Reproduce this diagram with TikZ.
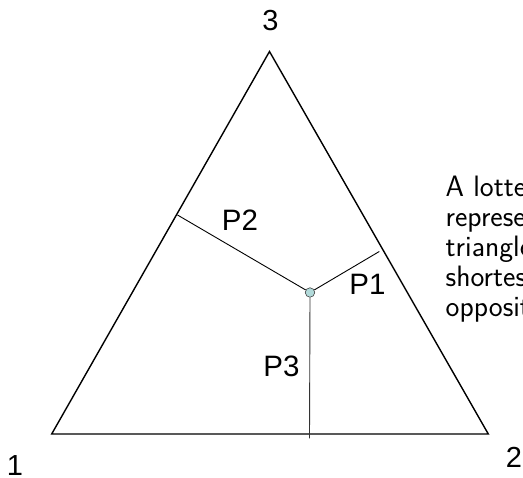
\documentclass[tikz,border=0pt]{standalone}
\usepackage{fontspec}
\newfontfamily\labfont{Liberation Sans}
\begin{document}
\begin{tikzpicture}[x=1pt,y=-1pt,
  side/.style={line width=1.4pt,line join=miter},
  dist/.style={line width=0.9pt},
  vlab/.style={inner sep=0pt,font=\labfont\fontsize{29}{31}\selectfont},
  plab/.style={inner sep=0pt,font=\labfont\fontsize{29.5}{31}\selectfont},
  pt/.style={circle,draw=black!75,line width=0.6pt,fill={rgb,255:red,178;green,218;blue,218},minimum size=9.5pt,inner sep=0pt},
  note/.style={inner sep=0pt,anchor=north west,align=left,font=\sffamily\fontsize{29.5}{30}\selectfont}]
\useasboundingbox (0,0) rectangle (523,478);
% vertices
\coordinate (v1) at (51.7,434);
\coordinate (v2) at (488.3,434);
\coordinate (v3) at (269.5,51.5);
\draw[side] (v1) -- (v2) -- (v3) -- cycle;
% point and distances
\node[pt] (p) at (310,292.5) {};
\coordinate (f2) at (177.5,215);
\coordinate (f1) at (379.3,251.5);
\coordinate (f3) at (309.5,438.5);
\draw[dist] (p) -- (f2);
\draw[dist] (p) -- (f1);
\draw[dist,black!80] (p.south) -- (f3);
% labels
\node[vlab] (l3) at (270.5,21) {3};
\node[vlab] (l1) at (15,465.5) {1};
\node[vlab] (l2) at (514,457) {2};
\node[plab] (P2) at (240,220) {P2};
\node[plab] (P1) at (367.5,284) {P1};
\node[plab] (P3) at (281.5,366) {P3};
\node[note] (txt) at (445.5,175.5) {A lottery is\\represented by a point in the\\triangle; each P$_i$ is the\\shortest distance to the\\opposite side.};
\end{tikzpicture}
\end{document}
